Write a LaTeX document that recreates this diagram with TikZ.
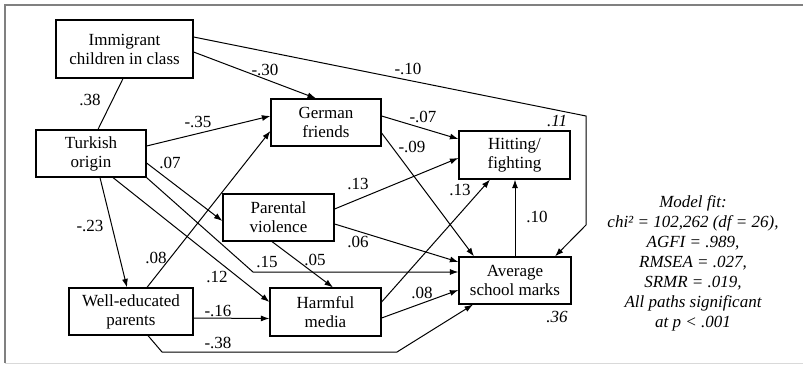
\documentclass[tikz,border=0pt]{standalone}
\usepackage{fontspec}
\setmainfont{Liberation Serif}
\usetikzlibrary{arrows.meta}
\begin{document}
\begin{tikzpicture}[x=1pt,y=-1pt,
  box/.style={draw,line width=1.2pt,align=center,inner sep=0pt,font=\fontsize{17}{19}\selectfont},
  lab/.style={inner sep=0pt,font=\fontsize{17}{19}\selectfont},
  rsq/.style={inner sep=0pt,font=\fontsize{17}{19}\selectfont\itshape},
  con/.style={line width=1pt},
  arr/.style={line width=1pt,-{Latex[length=8.5pt,width=6pt]}}]
\useasboundingbox (0,0) rectangle (803,366);
\draw[gray,line width=1.5pt] (803,5) -- (5,5) -- (5,363);
\draw[gray!30,line width=1pt] (5,363) -- (803,363);
% nodes
\node[box,minimum width=137pt,minimum height=58pt] (imm) at (124.5,49) {Immigrant\\children in class};
\node[box,minimum width=110pt,minimum height=47pt] (tur) at (91,153.5) {Turkish\\origin};
\node[box,minimum width=110pt,minimum height=47pt] (ger) at (326,122.5) {German\\friends};
\node[box,minimum width=111pt,minimum height=48pt] (hit) at (514.5,155) {Hitting/\\fighting};
\node[box,minimum width=111pt,minimum height=47pt] (pv) at (278.5,217.5) {Parental\\violence};
\node[box,minimum width=124pt,minimum height=47pt] (wel) at (131,311.5) {Well-educated\\parents};
\node[box,minimum width=111pt,minimum height=48pt] (harm) at (325.5,312) {Harmful\\media};
\node[box,minimum width=112pt,minimum height=47pt] (avg) at (515,280.5) {Average\\school marks};
\node[align=center,inner sep=0pt,font=\fontsize{17}{20}\selectfont\itshape] (fit) at (693,263)
  {Model fit:\\chi² = 102,262 (df = 26),\\AGFI = .989,\\RMSEA = .027,\\SRMR = .019,\\All paths significant\\at p < .001};
% bend coordinates
\coordinate (k1) at (586,116);
\coordinate (k2) at (586,225);
\coordinate (b15) at (253,272);
\coordinate (c1) at (162,352);
\coordinate (c2) at (397,352);
% connectors
\draw[con] ([xshift=-1.5pt]imm.south) -- ([xshift=7pt]tur.north);
\draw[arr] ([yshift=-3pt]imm.east) -- ([xshift=-10pt]ger.north);
\draw[arr] ([yshift=12pt]imm.east) -- (k1) -- (k2) -- ([xshift=40pt]avg.north);
\draw[arr] ([yshift=7.5pt]tur.east) -- ([yshift=6.5pt]ger.west);
\draw[arr] ([yshift=-9.5pt]tur.east) -- ([yshift=-3.5pt]pv.west);
\draw[arr] (tur.south east) -- (b15) -- ([yshift=8.5pt]avg.west);
\draw[arr] ([xshift=22pt]tur.south) -- ([yshift=10pt]harm.west);
\draw[arr] ([xshift=9pt]tur.south) -- ([xshift=-4pt]wel.north);
\draw[arr] ([xshift=16pt]wel.north) -- ([yshift=-8.5pt]ger.west);
\draw[arr] ([yshift=-6.5pt]wel.east) -- ([yshift=-6.5pt]harm.west);
\draw[arr] ([xshift=17pt]wel.south) -- (c1) -- (c2) -- ([xshift=-42pt]avg.south);
\draw[arr] ([xshift=-6.5pt]pv.south) -- ([xshift=7.5pt]harm.north);
\draw[arr] ([yshift=8.5pt]pv.east) -- ([yshift=-3pt]hit.west);
\draw[arr] ([yshift=-6.5pt]pv.east) -- ([yshift=18.5pt]avg.west);
\draw[arr] ([yshift=6.5pt]ger.east) -- ([yshift=16pt]hit.west);
\draw[arr] ([yshift=-10.5pt]ger.east) -- ([xshift=-41pt]avg.north);
\draw[arr] ([yshift=10pt]harm.east) -- ([xshift=-24.5pt]hit.south);
\draw[arr] ([yshift=-6pt]harm.east) -- ([yshift=-9.5pt]avg.west);
\draw[arr] (avg.north) -- (avg.north |- hit.south);
% labels
\node[lab] (l1) at (90,100) {.38};
\node[lab] (l2) at (265,70) {-.30};
\node[lab] (l3) at (408,69) {-.10};
\node[rsq] (l4) at (557,121) {.11};
\node[lab] (l5) at (198,122) {-.35};
\node[lab] (l6) at (170,163) {.07};
\node[lab] (l7) at (90,226) {-.23};
\node[lab] (l8) at (358,184) {.13};
\node[lab] (l9) at (358,242) {.06};
\node[lab] (l10) at (156,258) {.08};
\node[lab] (l11) at (267,262) {.15};
\node[lab] (l12) at (315,260) {.05};
\node[lab] (l13) at (217,277) {.12};
\node[lab] (l14) at (218,311) {-.16};
\node[lab] (l15) at (218,343) {-.38};
\node[lab] (l16) at (423,117) {-.07};
\node[lab] (l17) at (412,147) {-.09};
\node[lab] (l18) at (460,190) {.13};
\node[lab] (l19) at (537,217) {.10};
\node[lab] (l20) at (422,293) {.08};
\node[rsq] (l21) at (557,317) {.36};
\end{tikzpicture}
\end{document}
